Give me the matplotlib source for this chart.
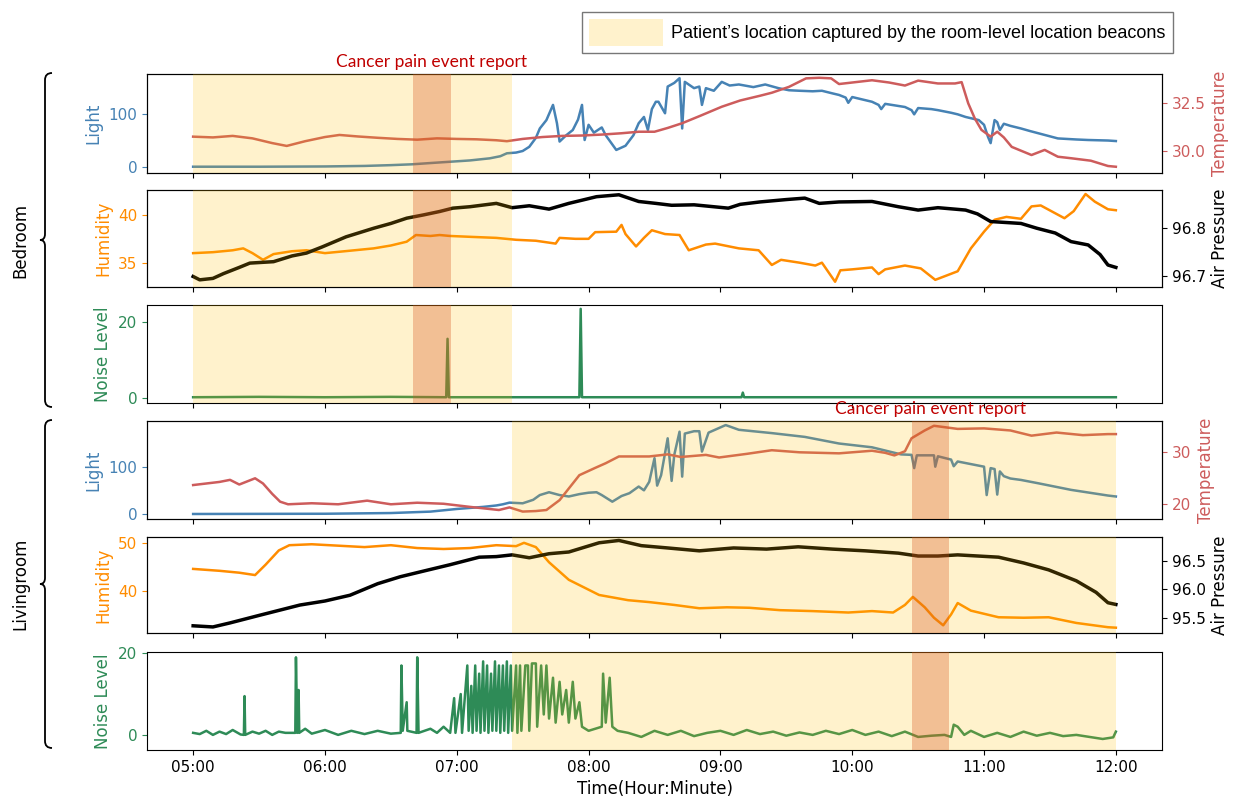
import matplotlib
matplotlib.use("Agg")
import matplotlib.pyplot as plt
from matplotlib.patches import Patch, PathPatch
from matplotlib.path import Path
from matplotlib.ticker import FuncFormatter

# ---- readings (time in decimal hours) ----
bed_light_t = [5.00, 5.50, 6.00, 6.30, 6.50, 6.66, 6.80, 6.95, 7.10, 7.25, 7.33, 7.38, 7.45, 7.50, 7.55, 7.60,
               7.63, 7.68, 7.73, 7.76, 7.78, 7.83, 7.88, 7.92, 7.95, 7.97, 8.00, 8.04, 8.10, 8.13, 8.21, 8.28,
               8.34, 8.38, 8.42, 8.45, 8.48, 8.51, 8.53, 8.58, 8.60, 8.65, 8.69, 8.71, 8.73, 8.80, 8.84, 8.86,
               8.89, 8.95, 9.01, 9.07, 9.14, 9.25, 9.34, 9.44, 9.52, 9.60, 9.70, 9.77, 9.85, 9.90, 9.95, 9.97,
               10.00, 10.10, 10.15, 10.20, 10.22, 10.25, 10.35, 10.40, 10.45, 10.47, 10.50, 10.60, 10.65, 10.75,
               10.80, 10.86, 10.96, 11.00, 11.03, 11.05, 11.08, 11.10, 11.12, 11.15, 11.20, 11.28, 11.35, 11.41,
               11.50, 11.56, 11.70, 11.79, 11.94, 12.00]
bed_light = [0, 0, 0.5, 1.5, 3, 4.6, 7, 9.5, 12, 16, 20, 25.6, 27, 30, 38, 55,
             73, 89, 118, 83, 48, 60, 70, 90, 118, 51, 80, 65, 75, 60, 32, 40,
             60, 83, 95, 70, 110, 124, 124, 102, 153, 160, 169, 73, 162, 150, 153, 118,
             150, 145, 162, 155, 157, 152, 157, 150, 146, 145, 144, 145, 140, 137, 132, 122,
             133, 127, 124, 118, 110, 120, 116, 114, 108, 100, 112, 110, 108, 103,
             100, 95, 89, 80, 57, 45, 89, 85, 70, 82, 78, 73, 68, 64,
             58, 54, 52, 51, 50, 49]

bed_temp_t = [5.00, 5.15, 5.30, 5.45, 5.60, 5.71, 5.85, 6.00, 6.11, 6.25, 6.40, 6.55, 6.70, 6.85, 7.00, 7.15,
              7.30, 7.38, 7.50, 7.65, 7.80, 7.95, 8.10, 8.25, 8.38, 8.50, 8.60, 8.71, 8.85, 9.01, 9.15, 9.30,
              9.39, 9.52, 9.65, 9.75, 9.84, 9.90, 10.00, 10.15, 10.28, 10.40, 10.50, 10.65, 10.78, 10.83,
              10.88, 10.93, 10.98, 11.05, 11.10, 11.15, 11.21, 11.36, 11.46, 11.56, 11.66, 11.81, 11.94, 12.00]
bed_temp = [30.74, 30.70, 30.78, 30.65, 30.40, 30.25, 30.50, 30.72, 30.83, 30.75, 30.68, 30.62, 30.58, 30.65, 30.62, 30.60,
            30.55, 30.50, 30.62, 30.72, 30.78, 30.80, 30.85, 30.92, 31.00, 31.00, 31.20, 31.45, 31.85, 32.32, 32.65, 32.90,
            33.06, 33.37, 33.82, 33.85, 33.82, 33.52, 33.60, 33.72, 33.60, 33.44, 33.70, 33.55, 33.55, 33.62,
            32.50, 31.70, 31.10, 30.74, 31.00, 30.70, 30.20, 29.77, 30.04, 29.68, 29.60, 29.47, 29.19, 29.15]

bed_hum_t = [5.00, 5.15, 5.30, 5.38, 5.45, 5.53, 5.61, 5.75, 5.86, 6.00, 6.15, 6.37, 6.50, 6.62, 6.69, 6.80,
             6.87, 6.95, 7.12, 7.30, 7.45, 7.60, 7.75, 7.78, 7.90, 8.00, 8.05, 8.21, 8.25, 8.28, 8.36, 8.42,
             8.48, 8.58, 8.69, 8.76, 8.89, 8.96, 9.14, 9.29, 9.39, 9.46, 9.60, 9.72, 9.77, 9.87, 9.91, 10.00,
             10.15, 10.20, 10.25, 10.40, 10.52, 10.63, 10.80, 10.90, 11.00, 11.08, 11.17, 11.28, 11.36, 11.43,
             11.61, 11.68, 11.77, 11.84, 11.94, 12.00]
bed_hum = [36.0, 36.1, 36.3, 36.5, 36.0, 35.3, 35.9, 36.2, 36.3, 36.0, 36.2, 36.5, 36.8, 37.2, 37.9, 37.8,
           37.9, 37.8, 37.7, 37.6, 37.4, 37.3, 37.0, 37.6, 37.5, 37.5, 38.2, 38.25, 38.96, 38.0, 36.7, 37.6,
           38.4, 38.0, 37.9, 36.3, 36.9, 37.0, 36.5, 36.3, 34.76, 35.3, 35.0, 34.7, 35.0, 33.0, 34.2, 34.3,
           34.5, 33.8, 34.3, 34.7, 34.4, 33.2, 34.1, 36.5, 38.25, 39.5, 39.8, 39.6, 40.9, 41.0,
           39.66, 40.4, 42.2, 41.4, 40.6, 40.5]

bed_pres_t = [5.00, 5.05, 5.15, 5.23, 5.35, 5.43, 5.61, 5.75, 5.86, 5.98, 6.16, 6.37, 6.50, 6.62, 6.75, 6.87,
              6.97, 7.10, 7.30, 7.42, 7.55, 7.70, 7.85, 8.06, 8.23, 8.38, 8.51, 8.63, 8.80, 9.06, 9.15, 9.30,
              9.50, 9.64, 9.75, 9.90, 10.15, 10.35, 10.50, 10.65, 10.86, 10.95, 11.05, 11.28, 11.40, 11.54,
              11.66, 11.79, 11.88, 11.94, 12.00]
bed_pres = [96.699, 96.692, 96.695, 96.705, 96.718, 96.727, 96.730, 96.742, 96.748, 96.761, 96.782, 96.800, 96.810, 96.821, 96.828, 96.835,
            96.842, 96.845, 96.852, 96.843, 96.847, 96.840, 96.852, 96.866, 96.870, 96.856, 96.852, 96.848, 96.849, 96.842, 96.850, 96.855,
            96.860, 96.863, 96.852, 96.855, 96.856, 96.845, 96.838, 96.843, 96.838, 96.830, 96.814, 96.810, 96.800, 96.790,
            96.772, 96.765, 96.745, 96.723, 96.718]

bed_noise_t = [5.00, 5.50, 6.00, 6.50, 6.92, 6.93, 6.94, 7.40, 7.93, 7.94, 7.95, 8.50, 9.16, 9.17, 9.18, 10.00, 11.00, 12.00]
bed_noise = [0.3, 0.4, 0.3, 0.4, 0.3, 15.5, 0.3, 0.3, 0.3, 23.3, 0.3, 0.3, 0.3, 1.5, 0.3, 0.3, 0.3, 0.3]

liv_light_t = [5.00, 6.00, 6.50, 6.80, 7.00, 7.20, 7.30, 7.35, 7.40, 7.50, 7.58, 7.63, 7.70, 7.78, 7.85, 7.93,
               8.00, 8.06, 8.10, 8.18, 8.25, 8.31, 8.38, 8.42, 8.46, 8.50, 8.52, 8.55, 8.60, 8.63, 8.65, 8.69,
               8.71, 8.73, 8.80, 8.84, 8.86, 8.91, 9.04, 9.14, 9.39, 9.64, 9.90, 10.15, 10.37, 10.45, 10.47,
               10.49, 10.62, 10.63, 10.65, 10.75, 10.77, 10.80, 11.00, 11.02, 11.05, 11.08, 11.10, 11.12, 11.15,
               11.20, 11.28, 11.41, 11.66, 11.94, 12.00]
liv_light = [0, 0.5, 2, 5, 10.6, 15, 18, 20.5, 24, 22.6, 30, 40, 46, 40, 37, 42,
             45, 46, 40, 26, 38, 44, 58, 50, 68, 118, 60, 82, 160, 70, 125, 174,
             79, 170, 175, 175, 132, 172, 188, 178, 171, 163, 149, 141, 126, 125, 97,
             124, 124, 100, 122, 115, 101, 111, 100, 40, 97, 95, 41, 90, 80,
             75, 72, 65, 51, 39, 37]

liv_temp_t = [5.00, 5.10, 5.20, 5.28, 5.35, 5.47, 5.53, 5.60, 5.66, 5.72, 5.90, 6.10, 6.32, 6.50, 6.70, 6.90,
              7.10, 7.32, 7.40, 7.50, 7.60, 7.68, 7.78, 7.93, 8.05, 8.13, 8.23, 8.46, 8.60, 8.70, 8.89, 8.99,
              9.20, 9.39, 9.60, 9.90, 10.15, 10.25, 10.32, 10.40, 10.45, 10.55, 10.62, 10.80, 11.00, 11.20,
              11.36, 11.55, 11.75, 11.94, 12.00]
liv_temp = [23.7, 24.0, 24.3, 24.7, 23.8, 25.0, 24.0, 22.0, 20.5, 20.0, 20.2, 20.0, 20.7, 20.0, 20.3, 20.1,
            19.5, 18.9, 19.4, 18.6, 18.7, 18.9, 20.8, 25.6, 27.0, 27.9, 29.2, 29.2, 29.6, 29.1, 29.5, 29.0,
            29.7, 30.4, 30.0, 29.8, 30.3, 29.9, 29.4, 30.2, 32.7, 34.2, 35.1, 34.5, 34.6, 34.2,
            33.2, 33.8, 33.3, 33.5, 33.5]

liv_hum_t = [5.00, 5.20, 5.35, 5.47, 5.55, 5.65, 5.73, 5.90, 6.10, 6.30, 6.50, 6.70, 6.90, 7.10, 7.30, 7.45,
             7.51, 7.60, 7.70, 7.85, 8.08, 8.30, 8.46, 8.65, 8.84, 9.05, 9.22, 9.45, 9.70, 9.97, 10.15, 10.31,
             10.40, 10.46, 10.55, 10.62, 10.69, 10.75, 10.80, 10.90, 11.11, 11.30, 11.49, 11.70, 11.94, 12.00]
liv_hum = [44.6, 44.2, 43.8, 43.3, 45.5, 48.5, 49.6, 49.8, 49.5, 49.2, 49.6, 49.0, 48.8, 49.0, 49.6, 49.4,
           50.1, 49.2, 46.0, 42.3, 39.1, 38.0, 37.6, 37.0, 36.3, 36.5, 36.4, 35.9, 35.7, 35.4, 35.7, 35.4,
           37.0, 38.7, 36.5, 34.3, 32.7, 35.0, 37.4, 35.8, 34.4, 34.3, 34.4, 33.2, 32.3, 32.2]

liv_pres_t = [5.00, 5.15, 5.28, 5.50, 5.81, 6.00, 6.19, 6.40, 6.57, 6.75, 6.95, 7.17, 7.30, 7.42, 7.55, 7.70,
              7.85, 8.08, 8.23, 8.40, 8.60, 8.84, 9.10, 9.35, 9.59, 9.85, 10.10, 10.35, 10.50, 10.65, 10.80,
              11.11, 11.30, 11.49, 11.70, 11.85, 11.94, 12.00]
liv_pres = [95.37, 95.35, 95.42, 95.55, 95.73, 95.80, 95.90, 96.10, 96.22, 96.32, 96.43, 96.56, 96.57, 96.60, 96.55, 96.62,
            96.65, 96.81, 96.85, 96.76, 96.72, 96.67, 96.72, 96.70, 96.74, 96.70, 96.67, 96.63, 96.58, 96.58, 96.60,
            96.56, 96.46, 96.34, 96.15, 95.95, 95.77, 95.74]

liv_noise_t = [5.00, 5.05, 5.10, 5.15, 5.20, 5.25, 5.30, 5.36, 5.385, 5.39, 5.395, 5.45, 5.50, 5.55, 5.60, 5.65,
               5.70, 5.775, 5.78, 5.79, 5.80, 5.805, 5.85, 5.90, 6.00, 6.10, 6.20, 6.30, 6.40, 6.50, 6.575, 6.58,
               6.59, 6.62, 6.625, 6.695, 6.70, 6.71, 6.80, 6.85, 6.90, 6.95, 6.98, 6.99, 7.03, 7.04, 7.08, 7.09,
               7.11, 7.12, 7.14, 7.15, 7.17, 7.18, 7.20, 7.21, 7.23, 7.24, 7.26, 7.27, 7.29, 7.30, 7.32, 7.33,
               7.35, 7.36, 7.38, 7.39, 7.41, 7.42, 7.45, 7.46, 7.48, 7.49, 7.52, 7.54, 7.55, 7.57, 7.60, 7.61,
               7.64, 7.66, 7.68, 7.70, 7.73, 7.75, 7.78, 7.80, 7.83, 7.85, 7.88, 7.90, 7.93, 7.95, 8.00, 8.10,
               8.11, 8.13, 8.16, 8.18, 8.22, 8.30, 8.40, 8.50, 8.60, 8.70, 8.80, 8.90, 9.00, 9.10, 9.20, 9.30,
               9.40, 9.50, 9.60, 9.70, 9.80, 9.90, 10.00, 10.10, 10.20, 10.30, 10.40, 10.50, 10.60, 10.70, 10.75,
               10.77, 10.80, 10.85, 10.90, 11.00, 11.10, 11.20, 11.30, 11.40, 11.50, 11.60, 11.70, 11.80, 11.90,
               11.98, 12.00]
liv_noise = [0.5, 0.2, 1.0, 0.0, 0.8, 0.2, 1.2, 0.1, 0.0, 9.5, 0.0, 0.8, 0.3, 1.0, 0.0, 0.8,
             0.5, 0.5, 19.0, 0.5, 11.0, 0.5, 1.5, 0.3, 1.2, 0.0, 1.0, 0.2, 1.0, 0.3, 0.5, 17.0,
             1.0, 8.0, 1.0, 0.5, 19.0, 0.5, 1.5, 0.5, 2.0, 0.5, 9.0, 0.5, 10.0, 0.5, 17.0, 1.0,
             12.0, 0.5, 17.0, 1.0, 15.0, 0.5, 18.0, 1.0, 17.0, 0.5, 15.0, 1.0, 18.0, 1.0, 17.0, 0.5,
             17.0, 1.0, 18.0, 0.5, 17.0, 1.0, 17.0, 0.5, 17.0, 1.0, 17.0, 17.0, 1.0, 17.5, 17.5, 2.0,
             17.0, 5.0, 17.0, 4.0, 14.0, 3.0, 13.0, 5.0, 11.0, 3.0, 13.0, 4.0, 8.0, 2.0, 1.0, 2.0,
             15.0, 3.0, 14.0, 2.0, 1.0, 0.5, -0.5, 1.0, 0.0, 1.0, -0.3, 0.5, 1.0, 0.0, 1.2, 0.2,
             0.8, -0.2, 0.6, 0.0, 1.0, 0.2, 1.2, 0.0, 0.8, -0.3, 0.8, -0.5, -0.2, 0.0, -0.5,
             2.5, 2.0, 0.0, 1.0, -0.5, 0.5, -0.5, 0.8, -0.2, 0.5, -0.3, 0.0, -0.5, -1.0,
             -0.6, 0.8]

# location beacon spans and pain reports
bed_stay = (5.0, 7.42)
liv_stay = (7.42, 12.0)
bed_event = (6.665, 6.953)
liv_event = (10.456, 10.736)

C_LIGHT = "#4682b4"
C_TEMP = "#cd5c5c"
C_HUM = "darkorange"
C_NOISE = "#2e8b57"
C_PRES = "black"
C_STAY = "#ffc000"
C_EVENT = "#d9541e"

W, H = 1236, 801
fig = plt.figure(figsize=(W / 100, H / 100), dpi=100)

rows = [(74, 173), (190, 287), (305, 403), (421, 519), (537, 633), (652, 750)]
axes = []
for top, bot in rows:
    ax = fig.add_axes([147 / W, 1 - bot / H, (1162 - 147) / W, (bot - top) / H])
    axes.append(ax)

hour_fmt = FuncFormatter(lambda v, p: "%02d:%02d" % (int(v), round((v - int(v)) * 60)))
one_dec = FuncFormatter(lambda v, p: "%.1f" % v)


def shade(ax, stay, event):
    ax.axvspan(*stay, color=C_STAY, alpha=0.2, lw=0, zorder=5)
    ax.axvspan(*event, color=C_EVENT, alpha=0.32, lw=0, zorder=6)


def color_axis(ax, color, label):
    ax.set_ylabel(label, color=color, fontsize=12)
    ax.tick_params(axis="y", colors=color, labelsize=11)


def room(ax_lt, ax_hp, ax_n, d, stay, event, lims):
    light_t, light, temp_t, temp, hum_t, hum, pres_t, pres, noise_t, noise = d
    ax_lt.plot(light_t, light, color=C_LIGHT, lw=1.8)
    color_axis(ax_lt, C_LIGHT, "Light")
    ax_lt.set_yticks([0, 100])
    ax_lt.set_ylim(*lims["light"])
    tw = ax_lt.twinx()
    tw.plot(temp_t, temp, color=C_TEMP, lw=1.8)
    color_axis(tw, C_TEMP, "Temperature")
    tw.set_yticks(lims["temp_ticks"])
    tw.set_ylim(*lims["temp"])
    shade(tw, stay, event)

    ax_hp.plot(hum_t, hum, color=C_HUM, lw=1.8)
    color_axis(ax_hp, C_HUM, "Humidity")
    ax_hp.set_yticks(lims["hum_ticks"])
    ax_hp.set_ylim(*lims["hum"])
    tw2 = ax_hp.twinx()
    tw2.plot(pres_t, pres, color=C_PRES, lw=2.5)
    color_axis(tw2, C_PRES, "Air Pressure")
    tw2.set_yticks(lims["pres_ticks"])
    tw2.set_ylim(*lims["pres"])
    tw2.yaxis.set_major_formatter(one_dec)
    shade(tw2, stay, event)

    ax_n.plot(noise_t, noise, color=C_NOISE, lw=1.8, zorder=2)
    color_axis(ax_n, C_NOISE, "Noise Level")
    ax_n.set_yticks([0, 20])
    ax_n.set_ylim(*lims["noise"])
    shade(ax_n, stay, event)
    return tw, tw2


bed = (bed_light_t, bed_light, bed_temp_t, bed_temp, bed_hum_t, bed_hum,
       bed_pres_t, bed_pres, bed_noise_t, bed_noise)
liv = (liv_light_t, liv_light, liv_temp_t, liv_temp, liv_hum_t, liv_hum,
       liv_pres_t, liv_pres, liv_noise_t, liv_noise)

tb1, tb2 = room(axes[0], axes[1], axes[2], bed, bed_stay, bed_event,
                {"light": (-12, 177), "temp": (28.82, 34.05), "temp_ticks": [30.0, 32.5],
                 "hum": (32.45, 42.62), "hum_ticks": [35, 40],
                 "pres": (96.677, 96.880), "pres_ticks": [96.7, 96.8], "noise": (-1.2, 24.3)})
tl1, tl2 = room(axes[3], axes[4], axes[5], liv, liv_stay, liv_event,
                {"light": (-10.6, 196.6), "temp": (17.17, 36.02), "temp_ticks": [20, 30],
                 "hum": (31.08, 51.33), "hum_ticks": [40, 50],
                 "pres": (95.245, 96.91), "pres_ticks": [95.5, 96.0, 96.5], "noise": (-3.7, 20.3)})
tb1.yaxis.set_major_formatter(one_dec)

for ax in axes + [tb1, tb2, tl1, tl2]:
    ax.set_xlim(4.65, 12.35)
    ax.set_xticks(range(5, 13))
    ax.xaxis.set_major_formatter(hour_fmt)
    ax.tick_params(axis="x", labelbottom=False)
axes[-1].tick_params(axis="x", labelbottom=True, labelsize=11)
axes[-1].set_xlabel("Time(Hour:Minute)", fontsize=12)

# pain event annotations
for ax, ev in [(axes[0], bed_event), (axes[3], liv_event)]:
    ax.text(sum(ev) / 2, 1.04, "Cancer pain event report", transform=ax.get_xaxis_transform(),
            ha="center", va="bottom", color="#c00000", fontsize=12.5, fontfamily="Lato")

# legend for the beacon span
fig.legend(handles=[Patch(facecolor="#fff2cc", edgecolor="none")],
           labels=["Patient\u2019s location captured by the room-level location beacons"],
           loc="upper right", bbox_to_anchor=(1173 / W, 1 - 12 / H), frameon=True, fancybox=False,
           edgecolor="#555555", prop={"family": "Liberation Sans", "size": 13},
           handlelength=4.1, handleheight=1.9, borderpad=0.4, handletextpad=0.45, borderaxespad=0)


# room braces on the left
def brace(top, bot, label):
    mid = (top + bot) / 2
    pts = [(52, top), (45, top), (45, top + 7), (45, mid - 6), (45, mid), (40, mid),
           (45, mid), (45, mid + 6), (45, bot - 7), (45, bot), (52, bot)]
    codes = [Path.MOVETO, Path.CURVE3, Path.CURVE3, Path.LINETO, Path.CURVE3, Path.CURVE3,
             Path.CURVE3, Path.CURVE3, Path.LINETO, Path.CURVE3, Path.CURVE3]
    verts = [(x / W, 1 - y / H) for x, y in pts]
    fig.add_artist(PathPatch(Path(verts, codes), fill=False, lw=1.3, edgecolor="black",
                             transform=fig.transFigure))
    fig.text(20 / W, 1 - mid / H, label, rotation=90, ha="center", va="center", fontsize=12)


brace(73, 407, "Bedroom")
brace(420, 748, "Livingroom")

fig.savefig("out.png", dpi=100)
